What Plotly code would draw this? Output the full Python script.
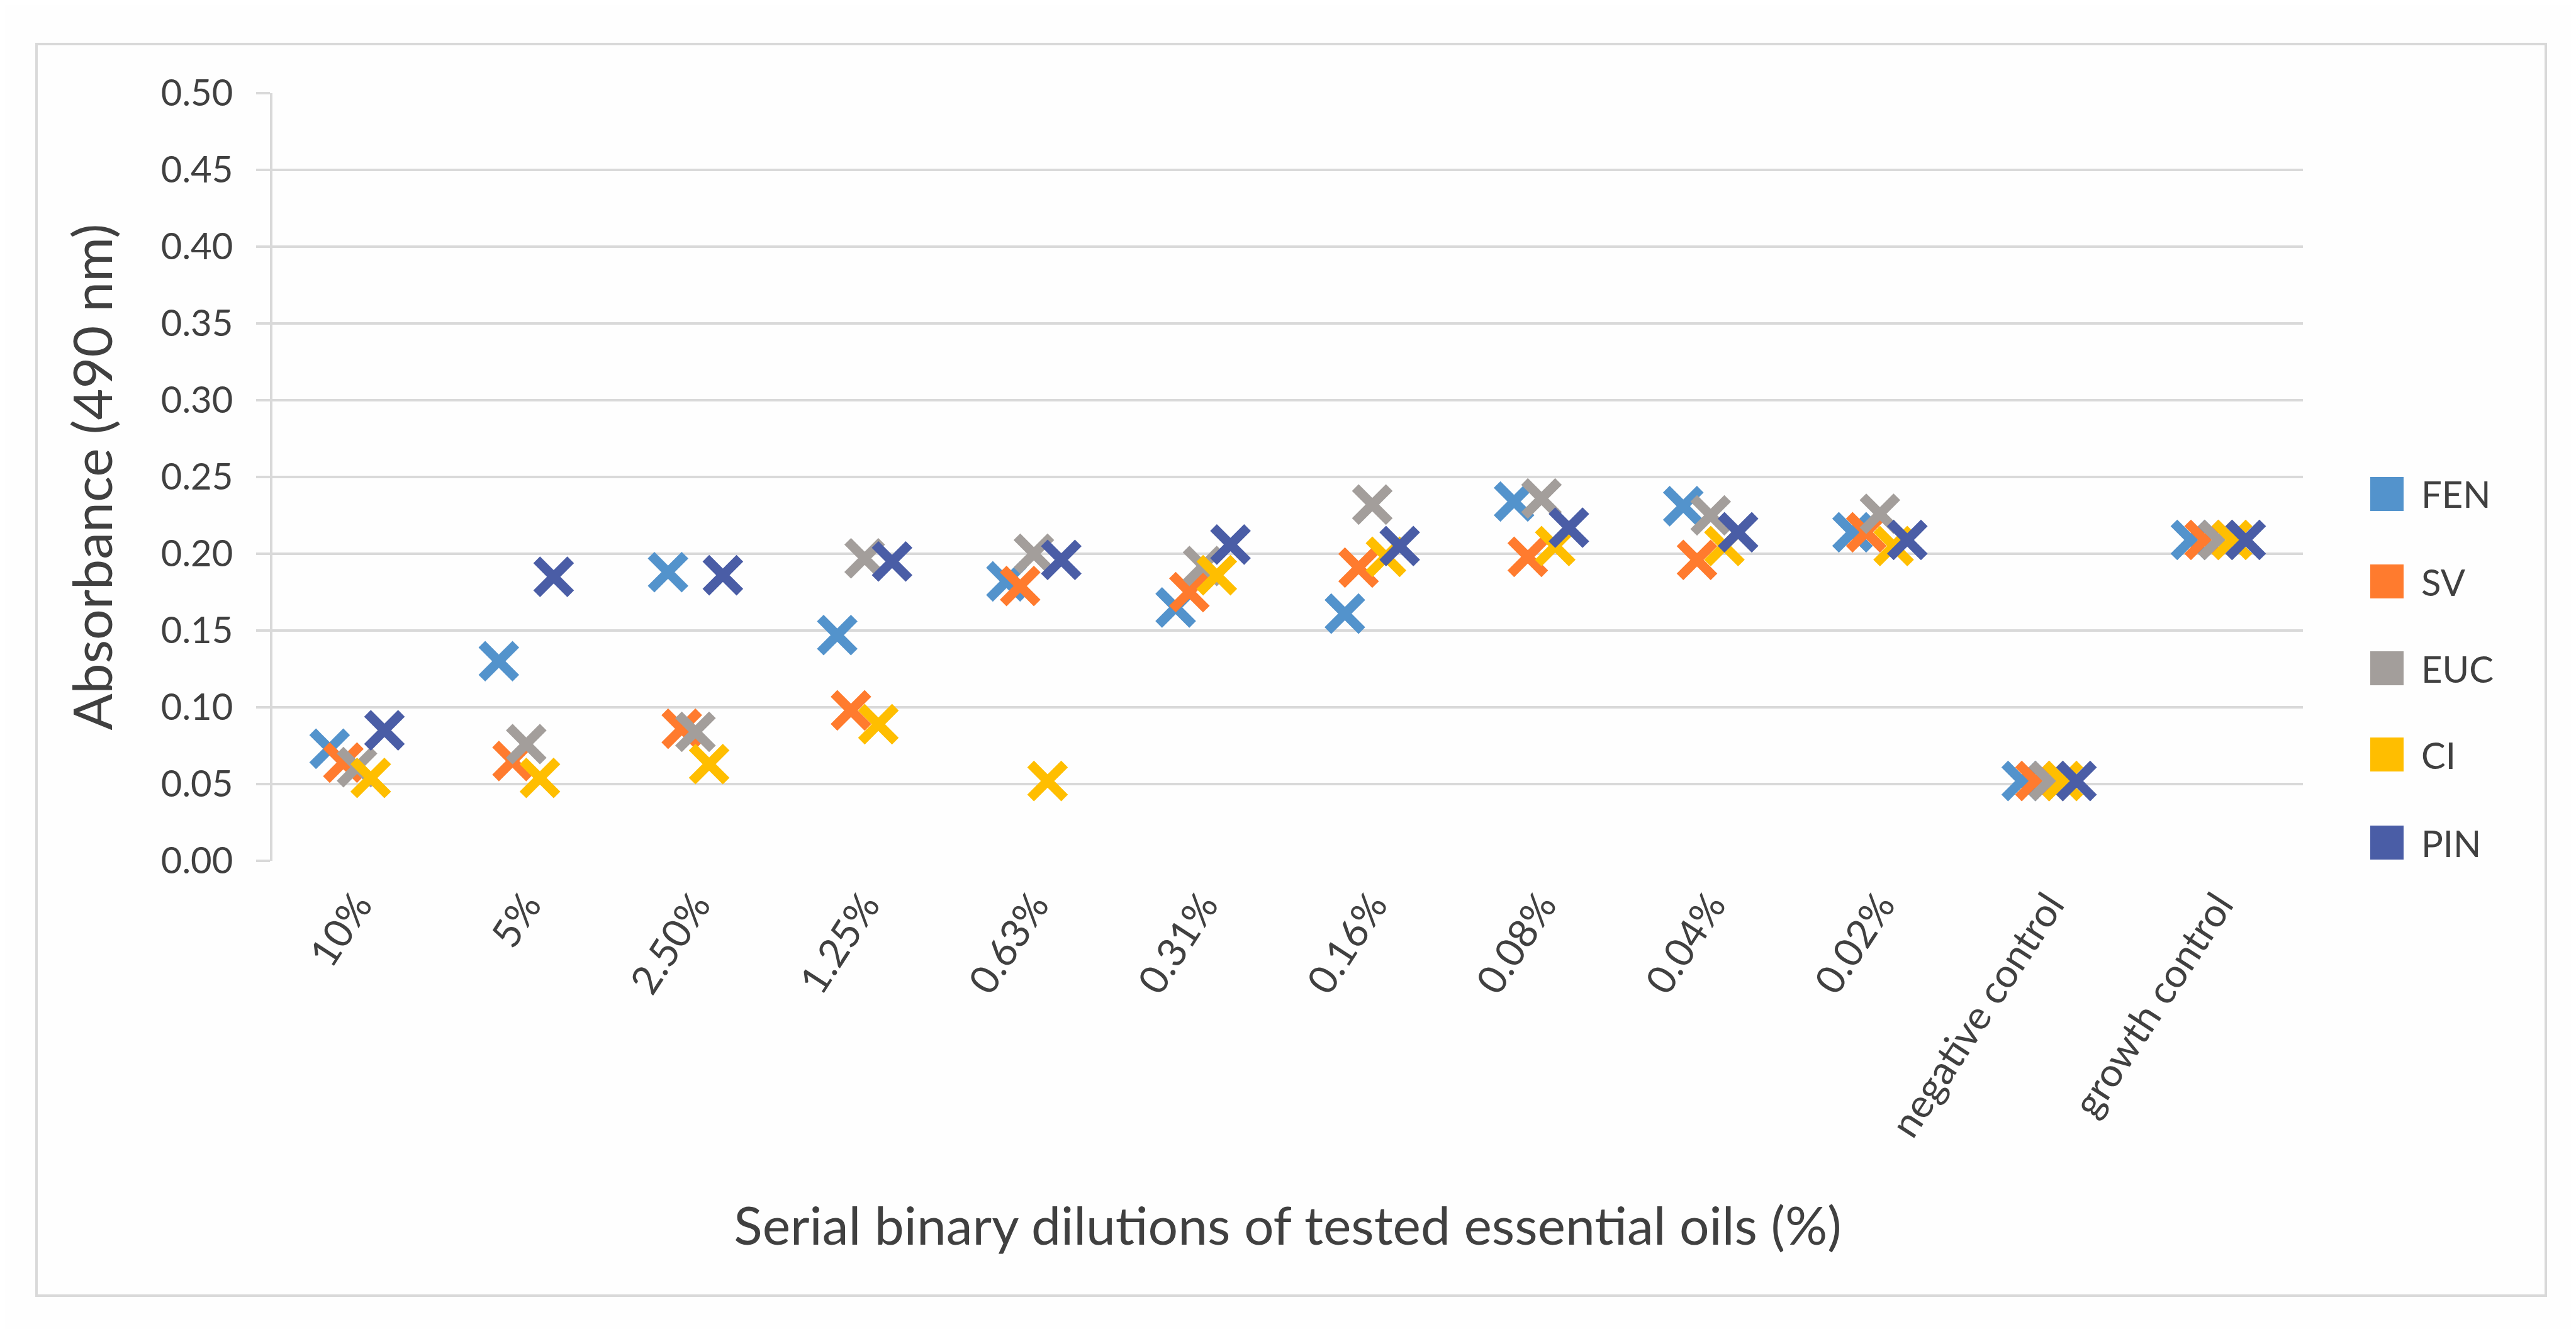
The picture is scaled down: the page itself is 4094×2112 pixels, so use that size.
import plotly.graph_objects as go

categories = ["10%", "5%", "2.50%", "1.25%", "0.63%", "0.31%", "0.16%", "0.08%",
              "0.04%", "0.02%", "negative control", "growth control"]
series_names = ["FEN", "SV", "EUC", "CI", "PIN"]
FEN = [0.073, 0.130, 0.188, 0.147, 0.182, 0.165, 0.161, 0.234, 0.231, 0.214, 0.052, 0.209]
SV = [0.064, 0.065, 0.086, 0.098, 0.179, 0.175, 0.191, 0.198, 0.196, 0.214, 0.052, 0.209]
EUC = [0.061, 0.076, 0.084, 0.197, 0.200, 0.192, 0.232, 0.236, 0.225, 0.226, 0.052, 0.209]
CI = [0.054, 0.054, 0.063, 0.089, 0.052, 0.186, 0.198, 0.205, 0.205, 0.205, 0.052, 0.209]
PIN = [0.085, 0.185, 0.186, 0.195, 0.196, 0.206, 0.205, 0.217, 0.214, 0.209, 0.052, 0.209]
series_values = [FEN, SV, EUC, CI, PIN]
colors = ["#5393CC", "#FF7B2E", "#A39E9B", "#FFBE00", "#4A5DA6"]
y_ticks = [i * 0.05 for i in range(11)]

W, H = 4094, 2112
L, R, T, B = 425, 3652, 140, 1360
FONT = "Lato"
TXT = "#404040"
GRID = "#D9D9D9"

fig = go.Figure()
step = 0.081
for k, (name, vals, col) in enumerate(zip(series_names, series_values, colors)):
    xs = [i + (k - 2) * step for i in range(len(categories))]
    fig.add_trace(go.Scatter(
        x=xs, y=vals, mode="markers", name=name, showlegend=False,
        marker=dict(symbol="x-thin-open", size=54, color=col,
                    line=dict(color=col, width=15)),
    ))

fig.update_layout(
    width=W, height=H,
    margin=dict(l=L, r=W - R, t=T, b=H - B),
    paper_bgcolor="#FEFEFE", plot_bgcolor="#FEFEFE",
    font=dict(family=FONT, color=TXT, size=58),
    showlegend=False,
)
fig.update_xaxes(
    range=[-0.5, len(categories) - 0.5],
    tickmode="array", tickvals=list(range(len(categories))), ticktext=categories,
    tickangle=-57, showgrid=False, zeroline=False, showline=False, ticks="",
    ticklabelstandoff=20,
    tickfont=dict(size=63, color=TXT),
    title=dict(text="Serial binary dilutions of tested essential oils (%)",
               font=dict(size=84, color=TXT), standoff=100),
)
fig.update_yaxes(
    range=[0, 0.5], tickmode="array", tickvals=y_ticks,
    ticktext=[f"{v:.2f}" for v in y_ticks],
    showgrid=True, gridcolor=GRID, gridwidth=4, zeroline=False,
    showline=True, linecolor=GRID, linewidth=4,
    ticks="outside", ticklen=22, tickwidth=4, tickcolor=GRID,
    ticklabelstandoff=25,
    tickfont=dict(size=58, color=TXT),
    title=dict(text="Absorbance (490 nm)", font=dict(size=86, color=TXT), standoff=50),
)

# outer chart border
fig.add_shape(type="rect", xref="paper", yref="paper",
              x0=(50 - L) / (R - L), x1=(4038 - L) / (R - L),
              y0=(B - 2051) / (B - T), y1=(B - 62) / (B - T),
              line=dict(color=GRID, width=4), fillcolor="rgba(0,0,0,0)", layer="below")

# legend (square swatches)
leg_y = [777, 916, 1054, 1191, 1331]
for name, col, py in zip(series_names, colors, leg_y):
    fig.add_shape(type="rect", xref="paper", yref="paper",
                  x0=(3759 - L) / (R - L), x1=(3812 - L) / (R - L),
                  y0=(B - py - 27) / (B - T), y1=(B - py + 27) / (B - T),
                  line=dict(width=0), fillcolor=col)
    fig.add_annotation(xref="paper", yref="paper", x=(3838 - L) / (R - L),
                       y=(B - py) / (B - T), text=name, showarrow=False,
                       xanchor="left", yanchor="middle",
                       font=dict(size=58, color=TXT, family=FONT))

fig.write_html("out.html")
